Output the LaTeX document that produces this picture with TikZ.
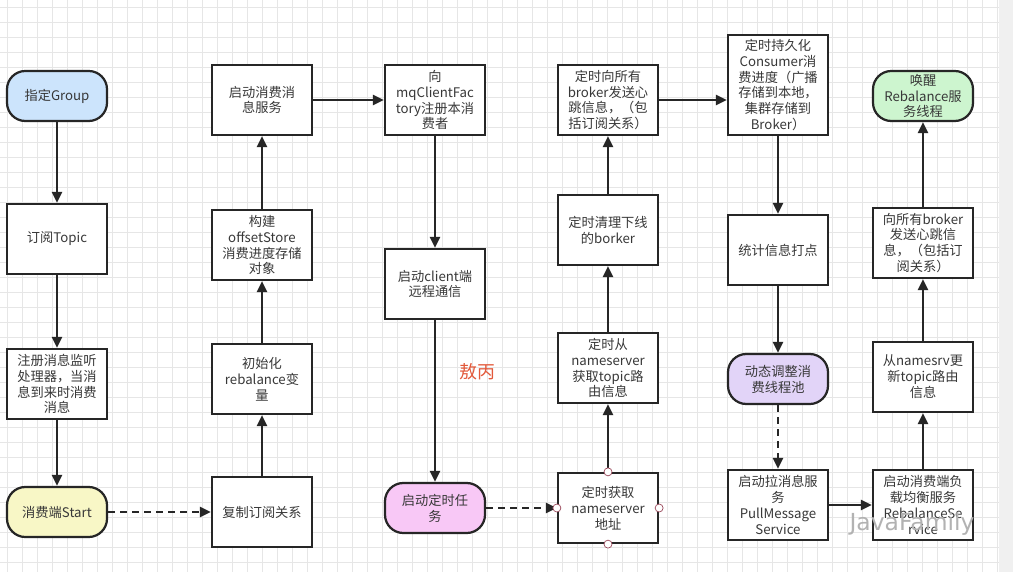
\documentclass[tikz,border=0pt]{standalone}
\usepackage{fontspec}
\newfontfamily\cjk{Noto Sans CJK SC}
\usetikzlibrary{arrows.meta}
\definecolor{ink}{HTML}{262626}
\definecolor{txt}{HTML}{383838}
\definecolor{gridc}{HTML}{E6E6E6}
\definecolor{fblue}{HTML}{CCE4FC}
\definecolor{fyellow}{HTML}{F8F7C6}
\definecolor{fpink}{HTML}{F8C8F6}
\definecolor{fpurple}{HTML}{E2D4F8}
\definecolor{fgreen}{HTML}{CDF5CF}
\definecolor{aobing}{HTML}{E2583A}
\definecolor{portc}{HTML}{9B4A5C}

\begin{document}
\begin{tikzpicture}[x=0.03cm, y=-0.03cm,
    every node/.style={font=\cjk\fontsize{11.3}{13.6}\selectfont, text=txt},
    box/.style={draw=ink, line width=1.9pt, fill=white, minimum width=3cm, minimum height=2.1cm, align=center, inner sep=0pt},
    tall/.style={box, minimum height=3cm},
    term/.style={box, rounded corners=0.55cm, minimum height=1.5cm},
    flow/.style={draw=ink, line width=1.9pt, -{Triangle[length=0.33cm,width=0.3cm]}},
    lazy/.style={flow, dash pattern=on 0.21cm off 0.15cm},
    port/.style={draw=portc, fill=white, line width=0.6pt},
    gridline/.style={gridc, line width=0.4pt}]
    \useasboundingbox (0,0) rectangle (1013,572);

    % Paper
    \fill[white] (0,0) rectangle (1013,572);
    \foreach \gx in {7,22,...,997} \draw[gridline] (\gx,0) -- (\gx,572);
    \foreach \gy in {7,22,...,567} \draw[gridline] (0,\gy) -- (999,\gy);
    \fill[black!6] (999,0) rectangle (1013,572);

    % Column 1
    \node[term, fill=fblue] (grp) at (57,96) {指定Group};
    \node[box] (topic) at (57,239) {订阅Topic};
    \node[box] (listen) at (57,384) {注册消息监听\\处理器，当消\\息到来时消费\\消息};
    \node[term, fill=fyellow] (start) at (57,512) {消费端Start};

    % Column 2
    \node[box] (svc) at (262,100) {启动消费消\\息服务};
    \node[box] (store) at (262,245) {构建\\offsetStore\\消费进度存储\\对象};
    \node[box] (rebal) at (262,379) {初始化\\rebalance变\\量};
    \node[box] (copy) at (262,512) {复制订阅关系};

    % Column 3
    \node[box] (factory) at (435,100) {向\\mqClientFac\\tory注册本消\\费者};
    \node[box] (remote) at (435,284) {启动client端\\远程通信};
    \node[term, fill=fpink] (timer) at (435,508) {启动定时任\\务};
    \node[text=aobing, font=\cjk\fontsize{15.3}{18}\selectfont] (author) at (477,372) {敖丙};

    % Column 4
    \node[box] (hb) at (608,100) {定时向所有\\broker发送心\\跳信息，（包\\括订阅关系）};
    \node[box] (clean) at (608,230) {定时清理下线\\的borker};
    \node[box] (route) at (608,368) {定时从\\nameserver\\获取topic路\\由信息};
    \node[box] (nsaddr) at (608,508) {定时获取\\nameserver\\地址};

    % Column 5
    \node[tall] (persist) at (778,85) {定时持久化\\Consumer消\\费进度（广播\\存储到本地，\\集群存储到\\Broker）};
    \node[box] (stats) at (778,250) {统计信息打点};
    \node[term, fill=fpurple] (pool) at (778,379) {动态调整消\\费线程池};
    \node[box] (pull) at (778,505) {启动拉消息服\\务\\PullMessage\\Service};

    % Column 6
    \node[term, fill=fgreen] (wake) at (923,96) {唤醒\\Rebalance服\\务线程};
    \node[box] (hb2) at (923,243) {向所有broker\\发送心跳信\\息，（包括订\\阅关系）};
    \node[box] (upd) at (923,377) {从namesrv更\\新topic路由\\信息};
    \node[box] (rebsvc) at (923,505) {启动消费端负\\载均衡服务\\RebalanceSe\\rvice};

    % Connectors
    \draw[flow] (grp) -- (topic);
    \draw[flow] (topic) -- (listen);
    \draw[flow] (listen) -- (start);
    \draw[lazy] (start) -- (copy);
    \draw[flow] (copy) -- (rebal);
    \draw[flow] (rebal) -- (store);
    \draw[flow] (store) -- (svc);
    \draw[flow] (svc) -- (factory);
    \draw[flow] (factory) -- (remote);
    \draw[flow] (remote) -- (timer);
    \draw[lazy] (timer) -- (nsaddr);
    \draw[flow] (nsaddr) -- (route);
    \draw[flow] (route) -- (clean);
    \draw[flow] (clean) -- (hb);
    \draw[flow] (hb.east) -- (hb.east -| persist.west);
    \draw[flow] (persist) -- (stats);
    \draw[flow] (stats) -- (pool);
    \draw[lazy] (pool) -- (pull);
    \draw[flow] (pull) -- (rebsvc);
    \draw[flow] (rebsvc) -- (upd);
    \draw[flow] (upd) -- (hb2);
    \draw[flow] (hb2) -- (wake);

    % Ports
    \foreach \a in {north,south,east,west}
        \draw[port] (nsaddr.\a) circle (0.12cm);

    % Watermark
    \node[text=black!30, font=\fontspec{DejaVu Sans}\fontsize{20}{24}\selectfont] (mark) at (912,524) {JavaFamily};
\end{tikzpicture}
\end{document}
